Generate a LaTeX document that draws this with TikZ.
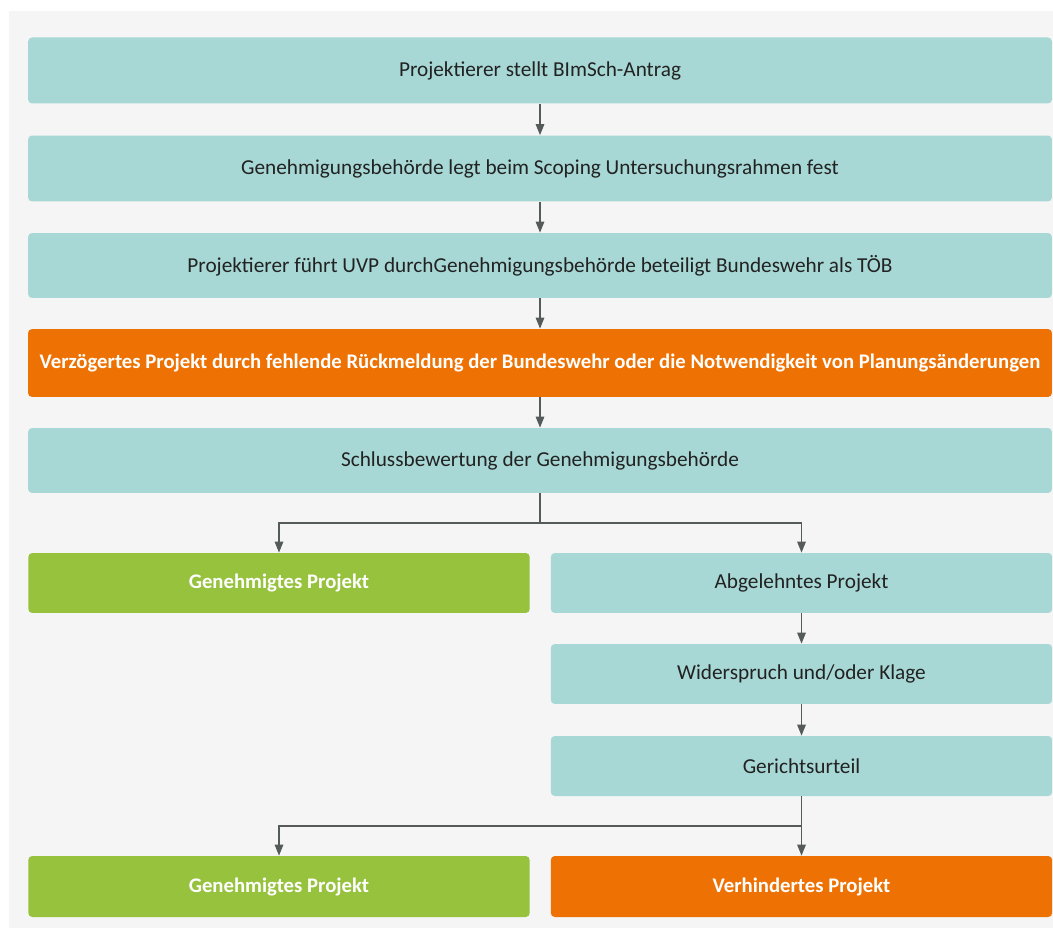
\documentclass[tikz,border=0pt]{standalone}
\usepackage{fontspec}
\setmainfont{Carlito}
\usetikzlibrary{arrows.meta}

\definecolor{teal}{HTML}{A7D8D5}
\definecolor{orangebox}{HTML}{EE7203}
\definecolor{greenbox}{HTML}{97C23E}
\definecolor{bggray}{HTML}{F5F5F5}
\definecolor{arrowgray}{HTML}{555A5A}
\definecolor{textdark}{HTML}{222222}

\tikzset{
  stage/.style={fill=teal, rounded corners=0.08cm, text=textdark, align=center,
    font=\fontsize{12.1}{14}\selectfont, minimum width=20.48cm, minimum height=1.32cm, inner sep=0pt},
  half/.style={stage, minimum width=10.03cm, minimum height=1.2cm},
  delayed/.style={fill=orangebox, text=white, font=\fontsize{11.8}{14}\selectfont\bfseries},
  approved/.style={fill=greenbox, text=white, font=\fontsize{11.8}{14}\selectfont\bfseries},
  arr/.style={draw=arrowgray, line width=0.8pt, -{Triangle[width=0.17cm,length=0.22cm]}},
}

\begin{document}
\begin{tikzpicture}[x=0.02cm, y=-0.02cm]
		\useasboundingbox (0,0) rectangle (1053,928);
		\fill[bggray] (9,11) rectangle (1053,928);

		% main chain
		\node[stage] (antrag) at (540,70.5) {Projektierer stellt BImSch-Antrag};
		\node[stage] (scoping) at (540,168.5) {Genehmigungsbehörde legt beim Scoping Untersuchungsrahmen fest};
		\node[stage, minimum height=1.3cm] (uvp) at (540,265.5) {Projektierer führt UVP durchGenehmigungsbehörde beteiligt Bundeswehr als TÖB};
		\node[stage, delayed, minimum height=1.36cm] (delay) at (540,363) {Verzögertes Projekt durch fehlende Rückmeldung der Bundeswehr oder die Notwendigkeit von Planungsänderungen};
		\node[stage, minimum height=1.3cm] (schluss) at (540,460.5) {Schlussbewertung der Genehmigungsbehörde};

		% branches
		\node[half, approved] (ok1) at (279,583) {Genehmigtes Projekt};
		\node[half] (abgelehnt) at (801.5,583) {Abgelehntes Projekt};
		\node[half] (klage) at (801.5,674) {Widerspruch und/oder Klage};
		\node[half] (urteil) at (801.5,766) {Gerichtsurteil};
		\node[half, approved, minimum height=1.22cm] (ok2) at (279,886.5) {Genehmigtes Projekt};
		\node[half, delayed, minimum height=1.22cm] (stop) at (801.5,886.5) {Verhindertes Projekt};

		\coordinate (split1) at (540,523);
		\coordinate (split2) at (801.5,826);

		\draw[arr] (antrag) -- (scoping);
		\draw[arr] (scoping) -- (uvp);
		\draw[arr] (uvp) -- (delay);
		\draw[arr] (delay) -- (schluss);
		\draw[arrowgray, line width=0.8pt] (schluss) -- (split1);
		\draw[arr] (split1) -| (ok1);
		\draw[arr] (split1) -| (abgelehnt);
		\draw[arr] (abgelehnt) -- (klage);
		\draw[arr] (klage) -- (urteil);
		\draw[arr] (urteil) -- (stop);
		\draw[arr] (split2) -| (ok2);
	\end{tikzpicture}
\end{document}
